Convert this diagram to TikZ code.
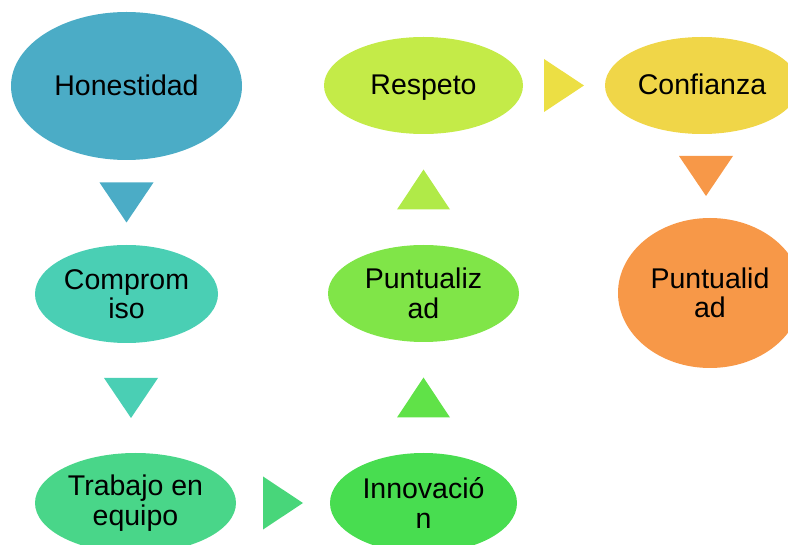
\documentclass[tikz,border=0pt]{standalone}
\usepackage{fontspec}
\setmainfont{Liberation Sans}
\usetikzlibrary{shapes.geometric,calc}
\definecolor{cHon}{RGB}{75,172,198}
\definecolor{cCom}{RGB}{74,207,180}
\definecolor{cTra}{RGB}{73,214,137}
\definecolor{cTrb}{RGB}{72,214,122}
\definecolor{cInn}{RGB}{72,221,80}
\definecolor{cInu}{RGB}{96,226,72}
\definecolor{cPun}{RGB}{128,229,72}
\definecolor{cPuu}{RGB}{176,234,72}
\definecolor{cRes}{RGB}{196,235,72}
\definecolor{cRsr}{RGB}{236,223,68}
\definecolor{cCon}{RGB}{240,214,72}
\definecolor{cPud}{RGB}{247,152,72}
\begin{document}
\begin{tikzpicture}[x=1pt,y=-1pt,
    val/.style={ellipse,inner sep=0pt,align=center,text=black,
      font=\fontsize{28.5}{29.5}\selectfont},
    one/.style={text height=22pt,text depth=3pt}]
    \useasboundingbox (0,0) rectangle (788,545);
    \node[val,one,fill=cHon,minimum width=231pt,minimum height=148pt] (hon) at (126.5,86) {Honestidad};
    \node[val,fill=cCom,minimum width=183pt,minimum height=98pt] (com) at (126.5,294) {Comprom\\iso};
    \node[val,fill=cTra,minimum width=201pt,minimum height=100pt] (tra) at (135.5,503) {Trabajo en\\equipo};
    \node[val,fill=cInn,minimum width=187pt,minimum height=100pt] (inn) at (423.5,503) {Innovació\\n};
    \node[val,fill=cPun,minimum width=191pt,minimum height=97pt] (pun) at (423.5,293.5) {Puntualiz\\ad};
    \node[val,one,fill=cRes,minimum width=199pt,minimum height=97pt] (res) at (423.5,85.5) {Respeto};
    \node[val,one,fill=cCon,minimum width=194pt,minimum height=97pt] (con) at (702,85.5) {Confianza};
    \node[val,fill=cPud,minimum width=184pt,minimum height=150pt] (pud) at (710,293) {Puntualid\\ad};
    \fill[cHon] ($(hon.south)!.5!(com.north)$) ++(-27,-20) -- ++(54,0) -- ++(-27,40) -- cycle;
    \fill[cCom] ($(com.south)!.5!(tra.north)$) ++(-27,-20) -- ++(54,0) -- ++(-27,40) -- cycle;
    \fill[cTrb] ($(tra.east)!.5!(inn.west)$) ++(-20,-26.5) -- ++(0,53) -- ++(40,-26.5) -- cycle;
    \fill[cInu] ($(inn.north)!.5!(pun.south)$) ++(-26.5,20) -- ++(53,0) -- ++(-26.5,-40) -- cycle;
    \fill[cPuu] ($(pun.north)!.5!(res.south)$) ++(-26.5,20) -- ++(53,0) -- ++(-26.5,-40) -- cycle;
    \fill[cRsr] ($(res.east)!.5!(con.west)$) ++(-20,-26.5) -- ++(0,53) -- ++(40,-26.5) -- cycle;
    \fill[cPud] ($(con.south)!.5!(pud.north)$) ++(-27,-20) -- ++(54,0) -- ++(-27,40) -- cycle;
\end{tikzpicture}
\end{document}
